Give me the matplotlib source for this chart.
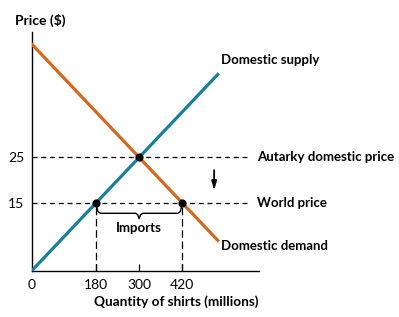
import numpy as np
import matplotlib.pyplot as plt

plt.rcParams['font.family'] = ['Lato', 'DejaVu Sans']

# supply and demand (price vs quantity)
q_line = [0, 522]
supply_p = [0, 43.5]
demand_p = [50, 6.5]

world_price = 15
autarky_price = 25
autarky_q = 300
supply_q_world = 180
demand_q_world = 420

x_ticks = [0, 180, 300, 420]
y_ticks = [15, 25]

blue = "#197f99"
orange = "#d2691e"

fig = plt.figure(figsize=(3.99, 3.17), dpi=100)
W, H = 399, 317
ax = fig.add_axes([31.5 / W, 1 - 271 / H, 227.5 / W, 239 / H])
ax.set_xlim(0, 634)
ax.set_ylim(0, 52.6)

for s in ["top", "right"]:
    ax.spines[s].set_visible(False)
for s in ["left", "bottom"]:
    ax.spines[s].set_linewidth(1)
    ax.spines[s].set_color("black")

ax.plot(q_line, demand_p, color=orange, lw=2.3, solid_capstyle="butt", zorder=3)
ax.plot(q_line, supply_p, color=blue, lw=2.3, solid_capstyle="butt", zorder=3)

# dashed price lines
for p in [autarky_price, world_price]:
    ax.plot([0, 610], [p, p], color="black", lw=0.9, ls=(0, (4, 3)), zorder=2)
for q in [supply_q_world, demand_q_world]:
    ax.plot([q, q], [0, world_price], color="black", lw=0.9, ls=(0, (6, 3)), zorder=2)

ax.scatter([supply_q_world, autarky_q, demand_q_world],
           [world_price, autarky_price, world_price],
           s=24, color="black", zorder=5)

# brace for imports
xm = (supply_q_world + demand_q_world) / 2
yb_top, yb_mid, yb_bot = 14.1, 12.7, 11.5
bx = [supply_q_world + 2, supply_q_world + 5, supply_q_world + 12, xm - 10, xm - 4, xm,
      xm + 4, xm + 10, demand_q_world - 12, demand_q_world - 5, demand_q_world - 2]
by = [yb_top, yb_mid + 0.4, yb_mid, yb_mid, yb_mid - 0.3, yb_bot,
      yb_mid - 0.3, yb_mid, yb_mid, yb_mid + 0.4, yb_top]
ax.plot(bx, by, color="black", lw=1.0, zorder=4)
ax.text(xm, 9.5, "Imports", ha="center", va="center", fontsize=9.5, fontweight="bold")

# down arrow
ax.annotate("", xy=(509, 17.2), xytext=(509, 22.8),
            arrowprops=dict(arrowstyle="-|>,head_width=0.15,head_length=0.5",
                            color="black", lw=1.3))

ax.set_xticks(x_ticks)
ax.set_xticklabels(["0", "180", "300", "420"], fontsize=10)
ax.tick_params(axis="x", direction="in", length=5, width=0.9, pad=6)
ax.xaxis.get_major_ticks()[0].tick1line.set_visible(False)
ax.set_yticks(y_ticks)
ax.set_yticklabels(["15", "25"], fontsize=10)
ax.tick_params(axis="y", length=0, pad=5)

ax.text(528, 46.5, "Domestic supply", fontsize=9.5, fontweight="bold", va="center", clip_on=False)
ax.text(528, 5.5, "Domestic demand", fontsize=9.5, fontweight="bold", va="center", clip_on=False)
ax.text(628, autarky_price, "Autarky domestic price", fontsize=9.5, fontweight="bold",
        va="center", clip_on=False)
ax.text(628, world_price, "World price", fontsize=9.5, fontweight="bold",
        va="center", clip_on=False)

fig.text(15 / W, 1 - 20 / H, "Price ($)", fontsize=10, fontweight="bold", va="center")
fig.text(176 / W, 1 - 302 / H, "Quantity of shirts (millions)", fontsize=9.8,
         fontweight="bold", ha="center", va="center")

fig.savefig("out.png", dpi=100)
